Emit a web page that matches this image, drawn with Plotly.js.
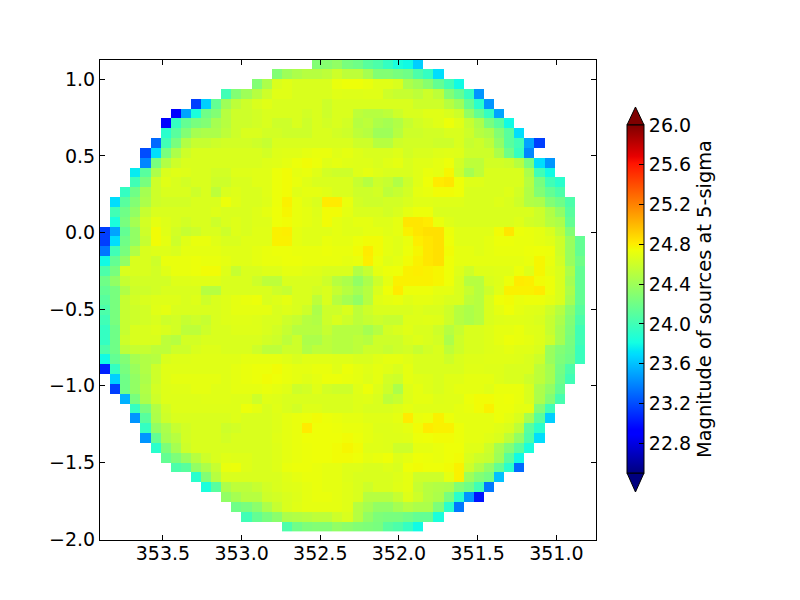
<!DOCTYPE html>
<html><head><meta charset="utf-8">
<script src="https://cdn.plot.ly/plotly-3.0.1.min.js"></script>
<style>html,body{margin:0;padding:0;background:#fff}</style>
</head><body><div id="chart" style="width:800px;height:600px"></div>
<script>
const tickValsX = [353.5, 353.0, 352.5, 352.0, 351.5, 351.0];
const tickValsY = [1.0, 0.5, 0.0, -0.5, -1.0, -1.5, -2.0];
const barTicks = [22.8, 23.2, 23.6, 24.0, 24.4, 24.8, 25.2, 25.6, 26.0];
const startCols = [21,17,15,12,9,7,6,6,5,4,4,3,3,2,1,1,1,0,0,0,0,0,0,0,0,0,0,0,0,0,0,0,1,1,2,3,3,4,4,5,6,7,9,10,12,13,14,18];
const magRows = [
[24.28,24.3,24.35,24.24,24.2,24.1,24.05,23.95,23.84,23.8,23.65],
[24.28,24.4,24.46,24.5,24.5,24.53,24.6,24.53,24.53,24.43,24.28,24.28,24.24,24.2,24.05,23.95,23.7],
[24.28,24.46,24.65,24.68,24.65,24.65,24.65,24.65,24.72,24.74,24.74,24.72,24.68,24.68,24.65,24.46,24.4,24.3,24.15,24.0,23.8],
[24.0,24.28,24.4,24.5,24.6,24.68,24.68,24.65,24.65,24.65,24.65,24.68,24.67,24.67,24.68,24.68,24.6,24.57,24.57,24.53,24.6,24.53,24.28,24.15,23.95,23.45],
[23.15,23.65,24.15,24.4,24.53,24.6,24.65,24.68,24.65,24.65,24.65,24.65,24.65,24.6,24.65,24.65,24.65,24.65,24.65,24.65,24.65,24.65,24.6,24.6,24.6,24.5,24.4,24.15,23.9,23.45],
[22.92,23.5,23.84,24.2,24.28,24.5,24.6,24.6,24.62,24.65,24.65,24.65,24.65,24.62,24.65,24.6,24.65,24.65,24.53,24.5,24.5,24.53,24.6,24.65,24.65,24.68,24.68,24.65,24.6,24.35,24.15,23.95,23.5],
[22.9,23.95,24.15,24.24,24.28,24.43,24.5,24.6,24.6,24.62,24.65,24.6,24.6,24.65,24.6,24.65,24.62,24.65,24.62,24.5,24.53,24.46,24.43,24.48,24.57,24.62,24.65,24.68,24.73,24.68,24.57,24.46,24.24,24.1,23.8],
[23.9,24.1,24.28,24.43,24.46,24.46,24.53,24.6,24.65,24.65,24.62,24.62,24.6,24.6,24.6,24.65,24.65,24.62,24.6,24.53,24.5,24.4,24.4,24.5,24.6,24.6,24.62,24.62,24.65,24.65,24.6,24.5,24.46,24.28,24.1,23.7],
[23.3,24.0,24.24,24.48,24.57,24.57,24.6,24.62,24.62,24.62,24.6,24.57,24.65,24.65,24.65,24.65,24.65,24.65,24.65,24.65,24.6,24.6,24.5,24.5,24.6,24.62,24.62,24.62,24.6,24.6,24.65,24.57,24.6,24.53,24.35,24.1,24.0,23.5,23.15],
[23.2,23.7,24.24,24.46,24.6,24.65,24.65,24.65,24.65,24.65,24.65,24.65,24.62,24.67,24.68,24.68,24.7,24.72,24.72,24.68,24.7,24.67,24.65,24.65,24.65,24.67,24.62,24.65,24.65,24.67,24.68,24.67,24.6,24.6,24.6,24.46,24.2,23.95,23.4],
[23.4,24.24,24.48,24.6,24.65,24.65,24.65,24.65,24.65,24.65,24.65,24.65,24.67,24.68,24.7,24.73,24.75,24.73,24.68,24.7,24.68,24.67,24.67,24.65,24.68,24.7,24.65,24.68,24.68,24.7,24.73,24.62,24.53,24.53,24.62,24.62,24.6,24.5,24.24,23.7,23.45],
[23.75,24.1,24.46,24.65,24.68,24.67,24.65,24.65,24.62,24.62,24.67,24.67,24.68,24.68,24.73,24.75,24.7,24.72,24.68,24.62,24.6,24.6,24.67,24.7,24.67,24.65,24.65,24.65,24.68,24.72,24.7,24.77,24.6,24.43,24.53,24.65,24.65,24.65,24.65,24.46,24.0,23.8],
[24.0,24.24,24.6,24.68,24.65,24.62,24.65,24.65,24.6,24.6,24.65,24.65,24.68,24.68,24.73,24.75,24.72,24.68,24.65,24.65,24.65,24.65,24.57,24.5,24.6,24.57,24.48,24.6,24.68,24.74,24.81,24.83,24.74,24.67,24.67,24.65,24.65,24.65,24.65,24.5,24.24,24.0,23.9],
[23.95,24.2,24.43,24.6,24.65,24.65,24.65,24.6,24.65,24.53,24.65,24.67,24.65,24.65,24.68,24.73,24.75,24.68,24.7,24.7,24.68,24.65,24.65,24.6,24.6,24.62,24.53,24.57,24.62,24.7,24.72,24.75,24.75,24.74,24.65,24.65,24.65,24.65,24.67,24.62,24.48,24.28,24.15,24.05],
[23.7,24.1,24.28,24.46,24.6,24.62,24.62,24.62,24.65,24.65,24.65,24.73,24.68,24.65,24.65,24.67,24.73,24.79,24.72,24.68,24.65,24.81,24.81,24.72,24.62,24.6,24.6,24.62,24.62,24.65,24.68,24.68,24.67,24.67,24.67,24.65,24.65,24.65,24.67,24.65,24.6,24.48,24.46,24.28,24.2,24.05],
[24.0,24.2,24.35,24.57,24.65,24.65,24.65,24.65,24.65,24.65,24.67,24.65,24.65,24.65,24.67,24.7,24.74,24.77,24.72,24.7,24.67,24.75,24.75,24.7,24.65,24.65,24.65,24.62,24.65,24.7,24.73,24.73,24.65,24.65,24.65,24.65,24.65,24.65,24.65,24.65,24.65,24.65,24.6,24.48,24.35,24.1],
[23.84,24.24,24.43,24.62,24.7,24.67,24.65,24.62,24.65,24.65,24.6,24.65,24.67,24.65,24.67,24.67,24.74,24.75,24.72,24.7,24.68,24.75,24.7,24.68,24.7,24.7,24.67,24.67,24.7,24.83,24.83,24.81,24.72,24.67,24.65,24.65,24.65,24.65,24.65,24.65,24.67,24.62,24.6,24.5,24.46,24.15],
[23.15,23.5,24.15,24.35,24.6,24.75,24.68,24.62,24.57,24.6,24.65,24.65,24.6,24.67,24.65,24.68,24.68,24.79,24.8,24.7,24.68,24.68,24.68,24.7,24.68,24.68,24.7,24.7,24.68,24.7,24.79,24.83,24.85,24.85,24.73,24.68,24.68,24.68,24.68,24.75,24.83,24.73,24.72,24.7,24.65,24.53,24.28],
[23.15,23.7,24.2,24.35,24.57,24.75,24.7,24.6,24.68,24.72,24.72,24.68,24.65,24.65,24.68,24.68,24.68,24.79,24.79,24.7,24.68,24.68,24.72,24.7,24.7,24.73,24.75,24.75,24.7,24.68,24.72,24.8,24.83,24.85,24.74,24.68,24.68,24.68,24.7,24.73,24.73,24.72,24.72,24.7,24.68,24.6,24.38,24.15],
[23.35,24.0,24.24,24.48,24.65,24.67,24.67,24.65,24.7,24.7,24.7,24.7,24.68,24.68,24.68,24.7,24.72,24.73,24.73,24.72,24.72,24.72,24.73,24.72,24.72,24.75,24.81,24.75,24.7,24.68,24.73,24.77,24.83,24.85,24.75,24.7,24.7,24.68,24.7,24.72,24.72,24.72,24.73,24.74,24.73,24.6,24.38,24.15],
[23.8,24.15,24.35,24.65,24.65,24.6,24.72,24.72,24.72,24.73,24.72,24.72,24.7,24.68,24.68,24.7,24.72,24.72,24.73,24.73,24.72,24.72,24.72,24.72,24.7,24.72,24.8,24.73,24.68,24.7,24.75,24.79,24.83,24.85,24.74,24.7,24.7,24.7,24.7,24.7,24.7,24.7,24.72,24.77,24.72,24.62,24.38,24.2],
[24.05,24.24,24.65,24.65,24.65,24.62,24.68,24.72,24.72,24.73,24.75,24.75,24.67,24.57,24.65,24.65,24.67,24.67,24.7,24.7,24.68,24.67,24.65,24.65,24.65,24.48,24.57,24.7,24.73,24.74,24.79,24.8,24.79,24.77,24.74,24.67,24.6,24.67,24.67,24.68,24.68,24.73,24.67,24.77,24.7,24.65,24.46,24.15],
[24.2,24.35,24.57,24.62,24.62,24.62,24.62,24.67,24.67,24.68,24.68,24.68,24.65,24.65,24.65,24.6,24.53,24.53,24.65,24.65,24.65,24.65,24.6,24.5,24.46,24.35,24.46,24.6,24.7,24.79,24.79,24.79,24.79,24.77,24.74,24.65,24.5,24.5,24.65,24.67,24.73,24.81,24.8,24.75,24.73,24.65,24.43,24.15],
[24.15,24.24,24.48,24.6,24.6,24.62,24.65,24.65,24.65,24.65,24.5,24.5,24.65,24.65,24.65,24.65,24.65,24.6,24.57,24.65,24.65,24.62,24.65,24.57,24.5,24.43,24.5,24.65,24.74,24.81,24.73,24.73,24.73,24.7,24.7,24.65,24.57,24.5,24.6,24.68,24.79,24.79,24.79,24.81,24.73,24.65,24.46,24.15],
[24.1,24.24,24.57,24.62,24.65,24.67,24.67,24.67,24.65,24.67,24.6,24.65,24.67,24.7,24.72,24.73,24.65,24.67,24.7,24.65,24.65,24.53,24.65,24.5,24.43,24.35,24.5,24.68,24.7,24.72,24.68,24.7,24.7,24.68,24.65,24.65,24.53,24.5,24.65,24.74,24.75,24.72,24.73,24.73,24.7,24.65,24.43,24.15],
[24.05,24.24,24.57,24.6,24.62,24.68,24.7,24.65,24.65,24.65,24.65,24.65,24.67,24.7,24.7,24.7,24.7,24.65,24.67,24.65,24.6,24.46,24.6,24.6,24.65,24.53,24.6,24.65,24.65,24.65,24.65,24.67,24.65,24.65,24.6,24.5,24.46,24.5,24.65,24.7,24.74,24.7,24.68,24.67,24.6,24.5,24.32,24.1],
[24.0,24.24,24.57,24.6,24.62,24.65,24.6,24.62,24.57,24.6,24.57,24.65,24.67,24.68,24.68,24.67,24.65,24.65,24.6,24.57,24.5,24.48,24.6,24.65,24.6,24.53,24.57,24.6,24.57,24.57,24.67,24.67,24.68,24.67,24.6,24.5,24.46,24.5,24.65,24.67,24.68,24.68,24.67,24.65,24.57,24.46,24.28,24.05],
[23.95,24.2,24.57,24.65,24.65,24.67,24.65,24.62,24.53,24.53,24.6,24.65,24.65,24.67,24.67,24.67,24.65,24.62,24.57,24.5,24.5,24.5,24.57,24.5,24.5,24.5,24.43,24.5,24.62,24.65,24.68,24.65,24.65,24.6,24.5,24.57,24.65,24.65,24.67,24.7,24.7,24.72,24.68,24.67,24.57,24.43,24.26,24.0],
[23.95,24.2,24.6,24.65,24.65,24.65,24.53,24.5,24.62,24.62,24.65,24.65,24.65,24.65,24.65,24.65,24.62,24.6,24.53,24.6,24.46,24.46,24.53,24.5,24.5,24.53,24.5,24.6,24.6,24.6,24.65,24.67,24.65,24.62,24.46,24.6,24.65,24.65,24.67,24.7,24.73,24.72,24.7,24.67,24.6,24.43,24.24,24.0],
[24.05,24.2,24.53,24.57,24.57,24.53,24.53,24.6,24.6,24.65,24.67,24.67,24.65,24.65,24.65,24.6,24.53,24.53,24.6,24.6,24.48,24.53,24.53,24.5,24.5,24.53,24.6,24.6,24.57,24.6,24.62,24.57,24.62,24.65,24.53,24.6,24.65,24.65,24.67,24.68,24.7,24.68,24.68,24.65,24.38,24.28,24.22,23.97],
[23.8,24.15,24.28,24.43,24.48,24.5,24.65,24.67,24.67,24.68,24.68,24.68,24.68,24.68,24.7,24.7,24.7,24.7,24.68,24.65,24.68,24.68,24.68,24.67,24.67,24.65,24.65,24.68,24.7,24.7,24.68,24.65,24.65,24.65,24.6,24.65,24.67,24.67,24.68,24.68,24.68,24.67,24.65,24.6,24.38,24.26,24.2,23.97],
[23.05,23.95,24.24,24.38,24.48,24.6,24.68,24.68,24.68,24.68,24.68,24.68,24.68,24.7,24.72,24.73,24.73,24.75,24.72,24.7,24.7,24.72,24.72,24.68,24.73,24.7,24.68,24.7,24.68,24.65,24.7,24.65,24.65,24.65,24.65,24.65,24.68,24.68,24.67,24.67,24.65,24.65,24.65,24.53,24.43,24.22,24.05],
[23.65,24.2,24.35,24.46,24.6,24.68,24.7,24.7,24.7,24.7,24.7,24.68,24.7,24.72,24.73,24.75,24.74,24.72,24.7,24.68,24.7,24.73,24.73,24.72,24.7,24.67,24.7,24.62,24.6,24.7,24.68,24.67,24.65,24.68,24.68,24.7,24.7,24.7,24.67,24.65,24.65,24.6,24.53,24.43,24.2,24.0],
[23.15,24.2,24.35,24.48,24.62,24.67,24.68,24.68,24.7,24.7,24.68,24.68,24.7,24.7,24.7,24.72,24.7,24.68,24.6,24.62,24.68,24.62,24.6,24.6,24.68,24.73,24.67,24.6,24.46,24.67,24.7,24.67,24.65,24.68,24.7,24.7,24.7,24.68,24.72,24.72,24.72,24.65,24.46,24.35,24.15],
[23.55,24.24,24.46,24.6,24.67,24.67,24.67,24.67,24.68,24.68,24.68,24.67,24.67,24.6,24.68,24.67,24.65,24.65,24.65,24.65,24.65,24.65,24.65,24.67,24.68,24.65,24.53,24.57,24.67,24.7,24.7,24.67,24.68,24.68,24.73,24.75,24.75,24.73,24.74,24.72,24.65,24.46,24.28,24.03],
[23.95,24.24,24.48,24.62,24.67,24.67,24.67,24.67,24.67,24.67,24.67,24.73,24.7,24.65,24.68,24.65,24.62,24.67,24.67,24.65,24.65,24.65,24.67,24.65,24.65,24.65,24.67,24.7,24.68,24.68,24.68,24.68,24.7,24.72,24.75,24.79,24.73,24.73,24.7,24.7,24.28,24.0],
[23.45,24.1,24.46,24.6,24.65,24.65,24.65,24.65,24.65,24.65,24.67,24.65,24.65,24.65,24.67,24.7,24.72,24.73,24.75,24.73,24.72,24.7,24.7,24.68,24.68,24.68,24.7,24.81,24.72,24.73,24.79,24.73,24.7,24.7,24.7,24.7,24.73,24.7,24.65,24.43,24.1,23.65],
[23.95,24.35,24.46,24.57,24.62,24.65,24.65,24.65,24.6,24.62,24.65,24.65,24.65,24.67,24.7,24.72,24.81,24.74,24.74,24.73,24.72,24.72,24.7,24.67,24.67,24.68,24.7,24.75,24.81,24.79,24.79,24.73,24.7,24.7,24.7,24.68,24.65,24.53,24.1,23.9],
[23.45,24.15,24.43,24.5,24.62,24.65,24.65,24.65,24.62,24.65,24.65,24.65,24.65,24.68,24.7,24.72,24.74,24.74,24.74,24.74,24.75,24.73,24.7,24.68,24.67,24.67,24.68,24.73,24.74,24.75,24.75,24.73,24.7,24.7,24.68,24.65,24.53,24.35,24.05,23.7],
[23.9,24.26,24.43,24.6,24.65,24.65,24.65,24.65,24.65,24.65,24.65,24.65,24.67,24.7,24.72,24.73,24.74,24.74,24.75,24.77,24.75,24.68,24.68,24.67,24.6,24.6,24.7,24.7,24.72,24.74,24.74,24.68,24.68,24.6,24.43,24.28,24.1,23.84],
[24.15,24.26,24.38,24.5,24.6,24.65,24.68,24.67,24.67,24.65,24.65,24.67,24.7,24.72,24.73,24.74,24.74,24.75,24.75,24.74,24.7,24.72,24.74,24.67,24.7,24.74,24.73,24.72,24.74,24.75,24.65,24.6,24.57,24.4,24.1,23.8],
[24.05,24.1,24.35,24.46,24.57,24.72,24.73,24.67,24.65,24.65,24.67,24.72,24.73,24.73,24.72,24.7,24.7,24.67,24.67,24.65,24.65,24.67,24.65,24.74,24.75,24.74,24.74,24.75,24.79,24.6,24.48,24.35,24.15,23.9,23.3],
[23.9,24.28,24.5,24.65,24.65,24.65,24.65,24.65,24.65,24.68,24.7,24.72,24.72,24.7,24.7,24.67,24.65,24.65,24.65,24.65,24.67,24.7,24.6,24.6,24.6,24.7,24.79,24.4,24.28,24.22,23.6],
[23.84,24.1,24.46,24.53,24.53,24.57,24.62,24.65,24.67,24.68,24.7,24.72,24.7,24.7,24.68,24.65,24.6,24.65,24.65,24.68,24.7,24.57,24.5,24.48,24.46,24.28,24.2,24.0,23.35],
[24.35,24.43,24.5,24.5,24.6,24.62,24.65,24.67,24.7,24.72,24.72,24.7,24.68,24.65,24.5,24.5,24.5,24.57,24.67,24.6,24.5,24.46,24.24,23.9,23.45,23.0],
[24.2,24.24,24.32,24.46,24.57,24.65,24.68,24.7,24.7,24.7,24.7,24.68,24.5,24.43,24.35,24.35,24.43,24.5,24.46,24.46,24.26,23.9,23.35],
[24.0,24.15,24.24,24.32,24.46,24.48,24.5,24.53,24.53,24.6,24.65,24.5,24.35,24.26,24.24,24.24,24.2,24.15,24.15,23.84],
[24.05,24.2,24.26,24.28,24.28,24.35,24.32,24.28,24.26,24.24,24.1,24.05,23.95,23.8]
];
const colCount = 48;
const zGrid = magRows.map((vals, r) => {
  const row = new Array(colCount).fill(null);
  vals.forEach((v, i) => { row[startCols[r] + i] = v; });
  return row;
});

const jet = [[0,'#00007f'],[0.11,'#0000ff'],[0.125,'#0000ff'],[0.34,'#00dbff'],[0.35,'#00e5f7'],[0.375,'#14ffe2'],
 [0.64,'#eeff08'],[0.65,'#f7f500'],[0.66,'#ffeb00'],[0.89,'#ff1300'],[0.91,'#e80000'],[1,'#7f0000']];
const tickFont = {family:'DejaVu Sans', size:19, color:'#000'};
const titleFont = {family:'DejaVu Sans', size:19.4, color:'#000'};
const W=496, H=480, L=100, T=60;
const px = (x,y)=>((x-L)/W).toFixed(4)+','+((T+H-y)/H).toFixed(4);
const arrow = (a,b,fill)=>({type:'path',xref:'paper',yref:'paper',layer:'above',
  path:'M'+px(627,a)+' L'+px(635.5,b)+' L'+px(644,a)+' Z',fillcolor:fill,line:{color:'#000',width:1}});

Plotly.newPlot('chart',[{
  type:'heatmap', z:zGrid, x0:353.868, dx:-0.0642, y0:1.098, dy:-0.0642,
  zmin:22.5, zmax:26, zsmooth:false, colorscale:jet, hoverongaps:false,
  colorbar:{lenmode:'pixels',len:348,thicknessmode:'pixels',thickness:17,x:(627-L)/W,xanchor:'left',xpad:0,
    y:(T+H-299)/H,yanchor:'middle',ypad:0,outlinecolor:'#000',outlinewidth:1,
    tickmode:'array',tickvals:barTicks,ticktext:barTicks.map(v=>v.toFixed(1)),ticks:'inside',ticklen:5,tickcolor:'#000',
    tickfont:tickFont,title:{text:'Magnitude of sources at 5-sigma',side:'right',font:titleFont}}
}],{
  width:800,height:600,paper_bgcolor:'#fff',plot_bgcolor:'#fff',font:tickFont,
  margin:{l:L,r:800-L-W,t:T,b:600-T-H,pad:0},showlegend:false,
  xaxis:{range:[353.9,350.748],tickmode:'array',tickvals:tickValsX,ticktext:tickValsX.map(v=>v.toFixed(1)),ticklabelstandoff:-4,
    ticks:'inside',ticklen:5,tickcolor:'#000',mirror:'allticks',showline:true,linecolor:'#000',linewidth:1,showgrid:false,zeroline:false,tickfont:tickFont},
  yaxis:{range:[-2.0065,1.126],tickmode:'array',tickvals:tickValsY,ticktext:tickValsY.map(v=>v.toFixed(1).replace('-','\u2212')),
    ticks:'inside',ticklen:5,tickcolor:'#000',mirror:'allticks',showline:true,linecolor:'#000',linewidth:1,showgrid:false,zeroline:false,tickfont:tickFont},
  shapes:[arrow(125,107,'#7f0000'),arrow(473,492,'#00007f')]
},{displayModeBar:false,staticPlot:true});
</script></body></html>
